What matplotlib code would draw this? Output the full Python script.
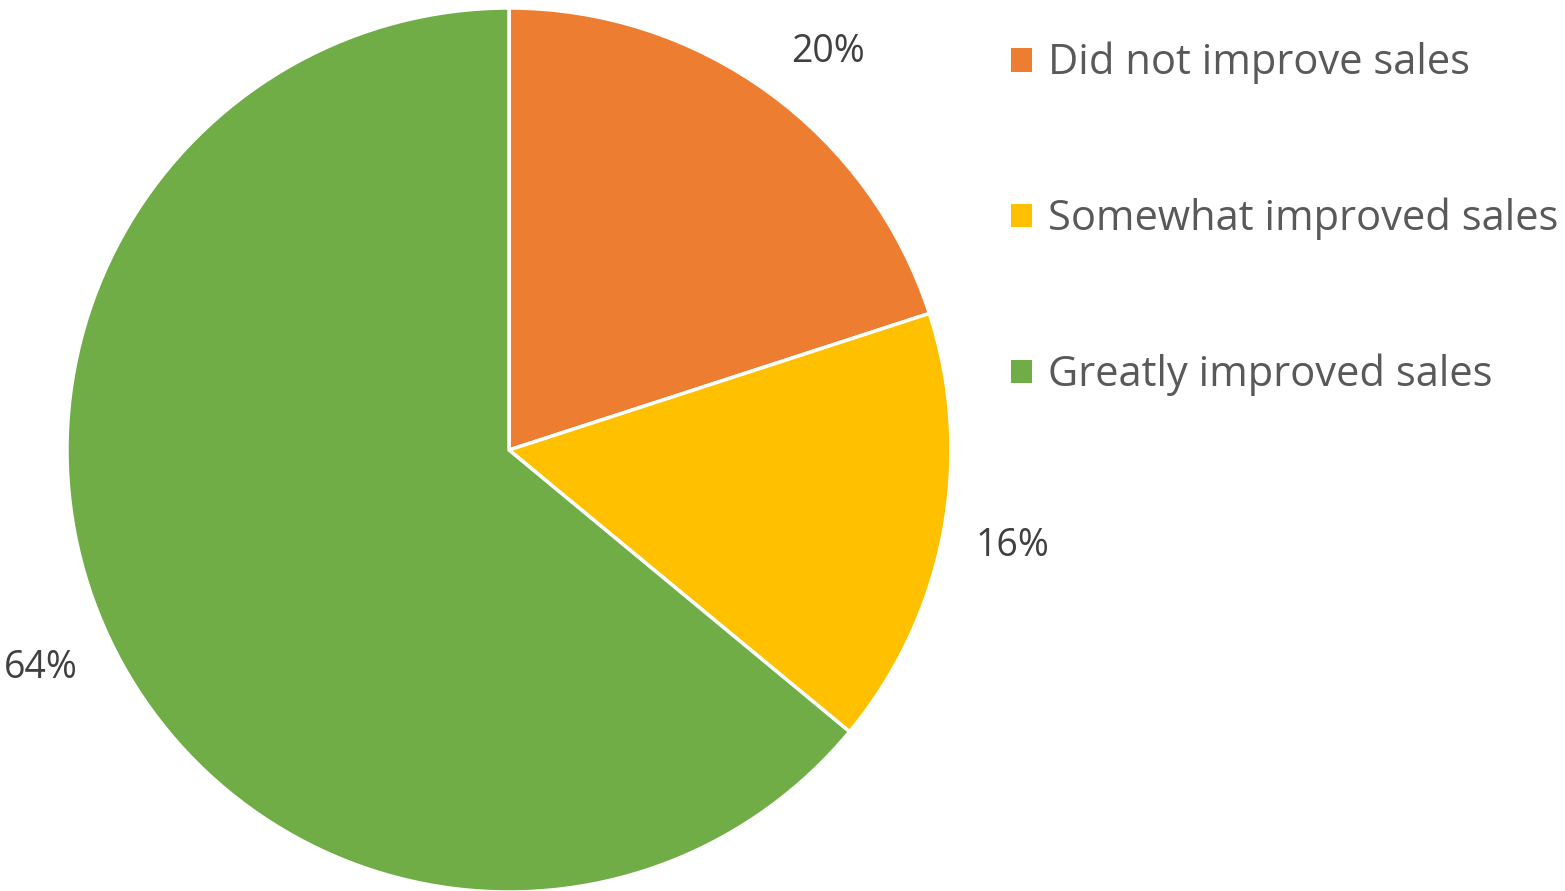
import matplotlib
matplotlib.use("Agg")
import matplotlib.pyplot as plt
from matplotlib.patches import Patch

categories = ["Did not improve sales", "Somewhat improved sales", "Greatly improved sales"]
values = [20, 16, 64]
colors = ["#ED7D31", "#FFC000", "#70AD47"]

plt.rcParams['font.family'] = ['Open Sans', 'DejaVu Sans']

W, H = 1565, 891
fig = plt.figure(figsize=(W / 100, H / 100), dpi=100)
cx, cy, r = 509, 441, 442
ax = fig.add_axes([(cx - r) / W, (cy - r) / H, 2 * r / W, 2 * r / H])
wedges, texts, autotexts = ax.pie(
    values, colors=colors, startangle=90, counterclock=False, radius=1,
    autopct=lambda p: f"{p:.0f}%", pctdistance=1.16,
    wedgeprops=dict(edgecolor="white", linewidth=2.5),
    textprops=dict(fontsize=27, color="#404040"))
# nudge the first label slightly, as the reference's label sits a bit lower/right
x0, y0 = autotexts[0].get_position()
autotexts[0].set_position((x0 + 0.04, y0 - 0.038))
x2, y2 = autotexts[2].get_position()
autotexts[2].set_position((x2 - 0.01, y2))
ax.set_xlim(-1, 1)
ax.set_ylim(-1, 1)
ax.set_aspect("equal")
ax.axis("off")

handles = [Patch(facecolor=c, edgecolor="none") for c in colors]
leg = fig.legend(handles, categories, loc="upper left",
                 bbox_to_anchor=(1011 / W, 1 - 42 / H), frameon=False,
                 fontsize=30, labelcolor="#595959", labelspacing=2.72,
                 handlelength=0.5, handleheight=0.5, handletextpad=0.4,
                 borderpad=0, borderaxespad=0)
fig.savefig("out.png", dpi=100)
